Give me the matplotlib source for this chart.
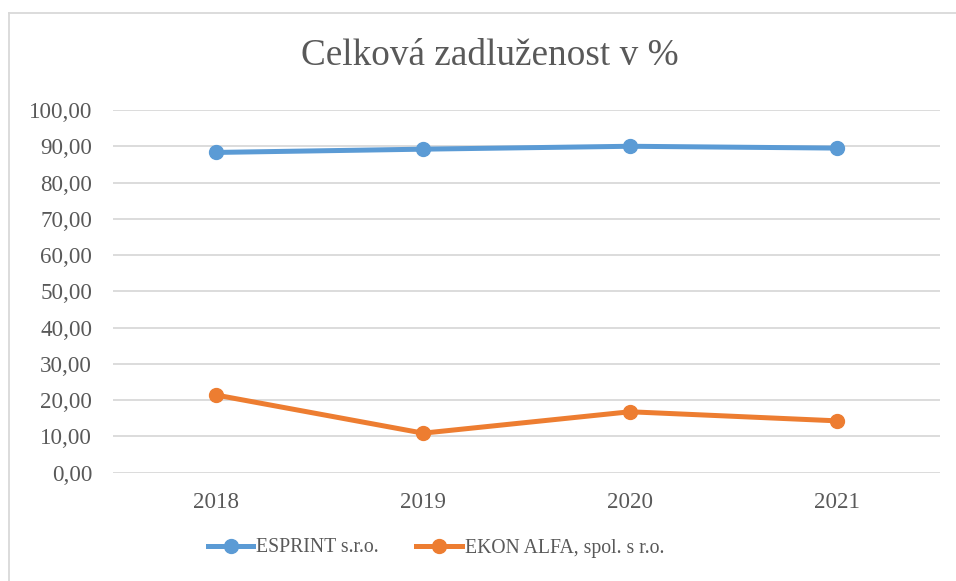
import matplotlib.pyplot as plt
import matplotlib.lines as mlines

# Data
years = ['2018', '2019', '2020', '2021']
esprint = [88.3, 89.2, 90.0, 89.5]
ekon = [21.4, 10.9, 16.8, 14.3]
yticks = [0, 10, 20, 30, 40, 50, 60, 70, 80, 90, 100]

text_color = '#595959'
plt.rcParams['font.family'] = ['Liberation Serif', 'DejaVu Serif']

fig = plt.figure(figsize=(9.56, 5.81), dpi=100)
ax = fig.add_axes([113 / 956, 1 - 472.7 / 581, (940 - 113) / 956, (472.7 - 110) / 581])

x = range(len(years))
ax.plot(x, esprint, color='#5B9BD5', lw=3.6, marker='o', ms=10, label='ESPRINT s.r.o.')
ax.plot(x, ekon, color='#ED7D31', lw=3.6, marker='o', ms=10, label='EKON ALFA, spol. s r.o.')

ax.set_xlim(-0.5, 3.5)
ax.set_ylim(0, 100)
ax.set_yticks(yticks)
ax.set_yticklabels([f'{v:.2f}'.replace('.', ',') for v in yticks])
ax.set_xticks(list(x))
ax.set_xticklabels(years)
ax.tick_params(length=0, labelsize=16.6, colors=text_color)
ax.tick_params(axis='y', pad=15)
ax.tick_params(axis='x', pad=14)
ax.grid(axis='y', color='#D9D9D9', lw=1.3)
ax.set_axisbelow(True)
for s in ax.spines.values():
    s.set_visible(False)

fig.text(489.5 / 956, 1 - 56 / 581, 'Celková zadluženost v %', ha='center', va='center',
         fontsize=26.8, color=text_color)

ax.legend(loc='center', bbox_to_anchor=(0.456, 1 - 548 / 581), bbox_transform=fig.transFigure,
          ncol=2, frameon=False, fontsize=14.2, labelcolor=text_color,
          handlelength=2.3, columnspacing=1.9, handletextpad=0.15)

# chart border (left and top)
fig.add_artist(mlines.Line2D([9 / 956, 9 / 956], [0, 1 - 13 / 581], transform=fig.transFigure,
                             color='#D9D9D9', lw=1.3))
fig.add_artist(mlines.Line2D([9 / 956, 1], [1 - 13 / 581, 1 - 13 / 581], transform=fig.transFigure,
                             color='#D9D9D9', lw=1.3))

fig.savefig('out.png', dpi=100)
